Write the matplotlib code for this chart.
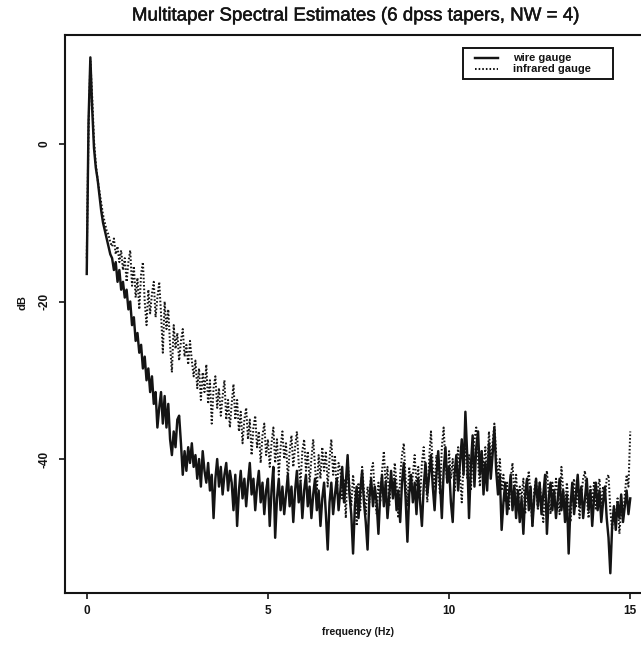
import numpy as np
import matplotlib
matplotlib.use("Agg")
import matplotlib.pyplot as plt
import matplotlib.patheffects as pe
from matplotlib.lines import Line2D
from matplotlib.patches import Rectangle

plt.rcParams["font.family"] = ["Liberation Sans", "DejaVu Sans"]
plt.rcParams["axes.unicode_minus"] = False

# Frequency grid (Hz) of the spectral estimates
freq_hz = np.linspace(0.0, 15.0, 301)

# Multitaper spectrum of the wire gauge record (dB)
wire_db = [
    -16.5, 3.0, 11.0, 4.5, -0.5, -3.0, -4.5, -6.5, -8.5, -10.0, -11.0, -12.0, -13.0, -14.0, -14.5, -16.0, -15.0, -17.5, -16.0, -18.5,
    -17.5, -19.5, -18.5, -21.0, -20.0, -23.0, -22.0, -25.0, -24.0, -26.5, -25.5, -28.5, -27.0, -30.0, -28.5, -31.5, -29.5, -33.0, -31.5, -36.0,
    -33.5, -31.5, -35.5, -32.0, -36.0, -33.0, -37.5, -39.5, -36.5, -38.5, -35.0, -34.5, -38.0, -42.0, -39.0, -41.5, -38.5, -40.5, -38.0, -41.0,
    -39.5, -42.5, -40.0, -43.5, -39.0, -41.5, -43.0, -40.5, -44.0, -42.0, -47.5, -42.5, -40.0, -43.5, -41.0, -44.5, -42.0, -40.5, -44.0, -41.5,
    -43.0, -46.5, -42.0, -48.5, -44.0, -41.5, -45.0, -42.5, -46.0, -43.0, -40.5, -44.5, -42.5, -46.5, -43.5, -41.5, -45.5, -43.0, -47.0, -44.0,
    -42.5, -48.5, -44.0, -41.0, -50.0, -45.0, -42.5, -46.5, -43.5, -47.0, -44.5, -42.0, -46.0, -43.5, -48.0, -44.0, -41.5, -45.5, -43.0, -47.5,
    -44.0, -42.0, -46.0, -43.5, -47.5, -44.5, -42.5, -46.5, -44.0, -48.5, -45.0, -43.0, -47.0, -51.5, -45.5, -43.0, -47.0, -44.5, -42.5, -46.5,
    -44.0, -41.0, -45.5, -43.0, -39.5, -44.5, -47.0, -52.0, -46.0, -43.5, -47.5, -44.0, -41.5, -45.5, -48.0, -51.5, -45.0, -42.5, -46.0, -43.5,
    -45.5, -49.5, -44.5, -42.0, -46.0, -43.0, -47.5, -44.5, -41.5, -45.0, -42.5, -46.5, -44.0, -48.0, -43.0, -40.5, -45.0, -50.5, -44.5, -42.0,
    -45.5, -43.0, -47.0, -42.5, -45.5, -48.5, -43.5, -40.5, -44.5, -42.0, -39.5, -43.5, -46.5, -42.0, -39.0, -43.0, -47.5, -41.5, -38.5, -43.0,
    -41.0, -45.5, -48.0, -42.0, -39.5, -44.0, -40.5, -37.5, -42.0, -34.0, -39.5, -47.5, -41.0, -37.0, -43.5, -38.5, -36.5, -42.0, -39.0, -44.5,
    -40.5, -44.0, -38.0, -42.5, -39.5, -36.0, -41.5, -44.5, -42.0, -49.0, -45.5, -43.0, -47.0, -44.5, -42.0, -46.5, -43.5, -47.5, -44.0, -48.0,
    -45.0, -49.5, -44.5, -42.5, -46.5, -43.5, -48.5, -45.0, -42.5, -46.0, -43.0, -47.0, -44.5, -42.0, -49.5, -45.0, -43.0, -46.5, -44.0, -47.5,
    -45.0, -42.5, -46.5, -44.0, -48.0, -44.5, -52.0, -46.0, -43.0, -47.0, -44.5, -42.0, -46.0, -43.5, -47.5, -45.0, -42.5, -46.5, -44.0, -48.5,
    -45.0, -43.0, -46.5, -44.0, -48.0, -45.5, -43.5, -47.5, -50.0, -54.5, -48.5, -46.0, -49.0, -45.5, -47.5, -44.5, -48.0, -46.0, -44.0, -47.0,
    -45.0,
]

# Multitaper spectrum of the infrared gauge record (dB)
infrared_db = [
    -14.5, 2.0, 10.5, 6.0, 0.5, -2.5, -4.5, -6.0, -7.5, -9.0, -10.0, -11.0, -11.5, -12.5, -13.0, -12.0, -14.0, -13.0, -15.0, -13.5,
    -16.0, -14.5, -17.5, -15.0, -13.5, -18.0, -15.5, -19.5, -17.0, -21.0, -16.5, -15.0, -20.0, -23.0, -18.5, -21.5, -19.0, -17.5, -22.0, -19.5,
    -17.5, -21.5, -26.5, -20.0, -23.5, -21.0, -25.5, -29.0, -23.0, -26.0, -24.0, -27.5, -25.0, -23.5, -27.0, -25.5, -28.0, -25.0, -27.5, -29.5,
    -27.5, -31.0, -28.5, -32.5, -29.0, -31.5, -28.0, -33.0, -30.0, -35.5, -31.0, -29.5, -33.5, -31.0, -34.5, -32.0, -30.0, -35.0, -32.5, -36.0,
    -33.0, -30.5, -35.0, -32.5, -36.5, -34.0, -38.0, -35.0, -33.5, -37.5, -35.0, -39.5, -36.0, -34.5, -38.5, -36.5, -40.5, -37.0, -35.5, -39.5,
    -37.5, -41.0, -38.0, -36.0, -40.5, -37.5, -42.0, -38.5, -36.5, -40.0, -38.0, -42.5, -39.0, -37.0, -41.0, -38.5, -36.5, -40.5, -43.0, -39.0,
    -37.5, -41.5, -39.0, -43.0, -40.0, -37.5, -41.0, -44.0, -39.5, -42.5, -38.5, -41.5, -39.0, -43.5, -40.0, -37.5, -42.0, -39.5, -44.5, -40.5,
    -41.5, -45.0, -42.5, -47.5, -40.0, -43.5, -46.0, -42.0, -44.5, -48.5, -43.0, -46.5, -41.0, -44.0, -47.0, -43.5, -45.5, -41.5, -40.5, -44.5,
    -47.0, -43.0, -45.5, -41.5, -39.0, -43.5, -41.0, -46.0, -42.5, -44.5, -40.5, -43.0, -47.5, -42.0, -39.5, -38.0, -42.5, -46.0, -41.0, -44.0,
    -42.0, -39.5, -43.5, -41.0, -45.0, -40.5, -38.5, -42.5, -45.5, -40.0, -36.5, -41.0, -43.5, -39.5, -42.0, -44.5, -38.5, -36.0, -40.5, -43.0,
    -39.0, -42.5, -40.0, -44.0, -41.5, -38.5, -42.0, -45.5, -40.5, -38.0, -42.5, -39.5, -44.0, -40.0, -37.5, -36.0, -40.5, -43.5, -39.0, -41.5,
    -38.5, -42.0, -36.5, -40.0, -38.0, -35.5, -39.5, -42.5, -40.0, -44.0, -42.0, -45.5, -43.0, -46.5, -42.5, -40.5, -44.5, -42.0, -46.0, -43.5,
    -45.0, -42.5, -47.0, -43.5, -41.5, -45.0, -48.5, -44.0, -42.5, -46.5, -43.0, -45.5, -48.0, -43.5, -41.5, -44.5, -47.0, -43.0, -45.5, -42.5,
    -44.5, -47.0, -41.0, -44.0, -46.5, -43.0, -45.5, -48.0, -44.0, -42.5, -46.0, -43.5, -47.5, -44.5, -42.5, -41.5, -45.0, -47.5, -43.5, -45.5,
    -43.0, -46.5, -44.0, -42.5, -46.0, -43.5, -45.0, -42.5, -42.0, -46.5, -49.0, -46.0, -48.0, -45.0, -49.5, -46.5, -47.5, -44.5, -42.0, -43.5,
    -36.5,
]

series_labels = ["wire gauge", "infrared gauge"]
x_ticks = [0, 5, 10, 15]
y_ticks = [0, -20, -40]

W, H = 641, 649
fig = plt.figure(figsize=(W / 100, H / 100), dpi=100)
fig.patch.set_facecolor("white")

# plot region in pixels: left 65, right 652 (past the page edge), top 35, bottom 593
left, right, top, bottom = 65, 652, 35, 593.3
ax = fig.add_axes([left / W, (H - bottom) / H, (right - left) / W, (bottom - top) / H])

ink = "#141414"
solid_style = dict(color=ink, linewidth=1.75, linestyle="-")
dotted_style = dict(color=ink, linewidth=1.45, linestyle=(0, (0.8, 1.0)))

ax.plot(freq_hz, wire_db, **solid_style)
ax.plot(freq_hz, infrared_db, **dotted_style)

ax.set_xlim(-0.6, 15.6)
ax.set_ylim(-57.05, 13.84)

ax.set_xticks(x_ticks)
ax.set_yticks(y_ticks)
ax.tick_params(axis="both", direction="out", length=4.3, width=1.2, color=ink,
               labelsize=8.5, labelcolor=ink)
ax.tick_params(axis="x", pad=4)
ax.tick_params(axis="y", pad=6, labelrotation=90)
for lab in ax.get_xticklabels() + ax.get_yticklabels():
    lab.set_fontweight("bold")
for lab in ax.get_yticklabels():
    lab.set_va("center")

for sp in ax.spines.values():
    sp.set_linewidth(1.5)
    sp.set_color(ink)

ax.set_xlabel("frequency (Hz)", fontsize=7.5, fontweight="bold", color=ink)
ax.xaxis.set_label_coords(0.5, (bottom - 632) / (bottom - top))
ax.xaxis.label.set_va("center")
ax.set_ylabel("dB", fontsize=8, fontweight="bold", color=ink)
ax.yaxis.set_label_coords((22 - left) / (right - left), (bottom - 303) / (bottom - top))
ax.yaxis.label.set_va("center")

title = fig.text(355 / W, 1 - 16 / H, "Multitaper Spectral Estimates (6 dpss tapers, NW = 4)",
                 ha="center", va="center", fontsize=13.5, color=ink)
title.set_path_effects([pe.withStroke(linewidth=0.35, foreground=ink)])

# legend box, drawn in page pixels
def fx(px):
    return px / W

def fy(py):
    return 1 - py / H

box = Rectangle((fx(463), fy(78.5)), fx(613) - fx(463), fy(48) - fy(78.5),
                transform=fig.transFigure, facecolor="white", edgecolor=ink,
                linewidth=1.4, zorder=5)
fig.patches.append(box)
for row_y, style, label in [(58, solid_style, series_labels[0]),
                            (68.5, dotted_style, series_labels[1])]:
    fig.lines.append(Line2D([fx(475), fx(498)], [fy(row_y), fy(row_y)],
                            transform=fig.transFigure, zorder=6, **style))
    fig.text(fx(513), fy(row_y), label, ha="left", va="center",
             fontsize=8, fontweight="bold", color=ink, zorder=6)

fig.savefig("out.png", dpi=100, facecolor="white")
